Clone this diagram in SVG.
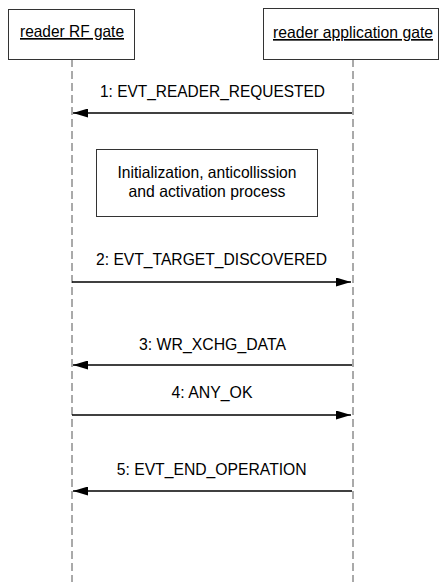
<svg xmlns="http://www.w3.org/2000/svg" width="440" height="582" viewBox="0 0 440 582">
<style>
.box{fill:#fff;stroke:#333;stroke-width:1}
.life{stroke:#555;stroke-width:1;stroke-dasharray:8,4;fill:none}
.msg{stroke:#000;stroke-width:1.5;fill:none}
text{font-family:"Liberation Sans",Arial,sans-serif;font-size:16.5px;fill:#000}
.u{text-decoration:underline}
</style>
<defs>
<marker id="ah" viewBox="0 0 15 9" refX="15" refY="4.5" markerWidth="15" markerHeight="9" markerUnits="userSpaceOnUse" orient="auto">
<path d="M0,0 L15,4.5 L0,9 Z" fill="#000"/>
</marker>
</defs>
<rect width="440" height="582" fill="#fff"/>
<g id="lifelines">
<line class="life" x1="72" y1="59" x2="72" y2="582"/>
<line class="life" x1="353" y1="59" x2="353" y2="582"/>
</g>
<g id="reader-rf-gate">
<rect class="box" x="8.5" y="9.5" width="126" height="50"/>
<text class="u" x="72" y="37" text-anchor="middle" textLength="104" lengthAdjust="spacingAndGlyphs">reader RF gate</text>
</g>
<g id="reader-application-gate">
<rect class="box" x="263.5" y="8.5" width="175" height="51"/>
<text class="u" x="353" y="38" text-anchor="middle" textLength="160" lengthAdjust="spacingAndGlyphs">reader application gate</text>
</g>
<g id="process">
<rect class="box" x="96.5" y="149.5" width="221" height="67"/>
<text x="207" y="178" text-anchor="middle" textLength="179" lengthAdjust="spacingAndGlyphs">Initialization, anticollission</text>
<text x="207" y="197" text-anchor="middle" textLength="157" lengthAdjust="spacingAndGlyphs">and activation process</text>
</g>
<g id="connectors">
<line class="msg" x1="352" y1="113" x2="73" y2="113" marker-end="url(#ah)"/>
<line class="msg" x1="72" y1="282" x2="351" y2="282" marker-end="url(#ah)"/>
<line class="msg" x1="352" y1="365" x2="73" y2="365" marker-end="url(#ah)"/>
<line class="msg" x1="72" y1="415" x2="351" y2="415" marker-end="url(#ah)"/>
<line class="msg" x1="352" y1="491" x2="73" y2="491" marker-end="url(#ah)"/>
<text x="212.5" y="97" text-anchor="middle" textLength="225" lengthAdjust="spacingAndGlyphs">1: EVT_READER_REQUESTED</text>
<text x="211.5" y="265" text-anchor="middle" textLength="231" lengthAdjust="spacingAndGlyphs">2: EVT_TARGET_DISCOVERED</text>
<text x="212.5" y="350" text-anchor="middle" textLength="147" lengthAdjust="spacingAndGlyphs">3: WR_XCHG_DATA</text>
<text x="212" y="398" text-anchor="middle" textLength="81" lengthAdjust="spacingAndGlyphs">4: ANY_OK</text>
<text x="211.7" y="475" text-anchor="middle" textLength="190" lengthAdjust="spacingAndGlyphs">5: EVT_END_OPERATION</text>
</g>
</svg>
